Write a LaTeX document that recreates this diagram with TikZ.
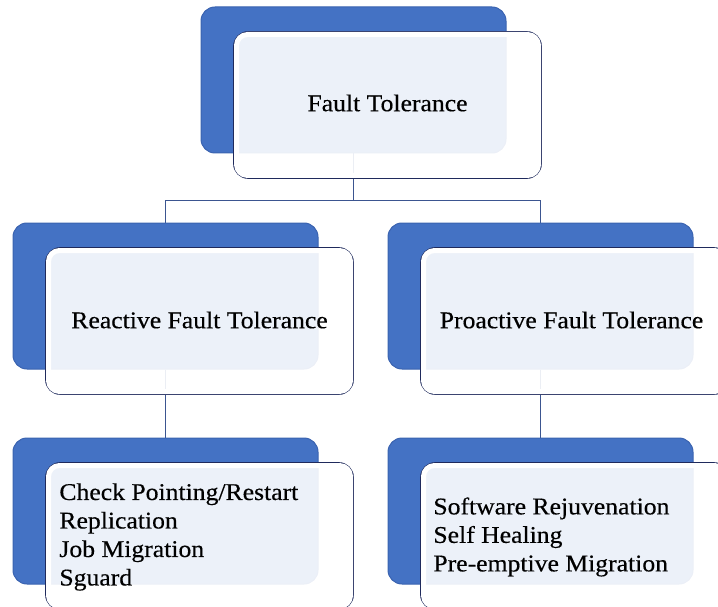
\documentclass[tikz,border=0pt]{standalone}
\usepackage{fontspec}
\setmainfont{Liberation Serif}[FakeStretch=1.07,FakeBold=0.4]
\usetikzlibrary{calc,backgrounds}
\definecolor{accentblue}{HTML}{4472C4}
\definecolor{accentedge}{HTML}{3A63B0}
\definecolor{navyline}{HTML}{1F2A5C}
\definecolor{linkblue}{HTML}{3B5590}

\begin{document}
\begin{tikzpicture}[x=1pt,y=-1pt,
  backbox/.style={draw=accentedge,line width=1pt,fill=accentblue,rounded corners=14pt,
    minimum width=305pt,minimum height=146pt,inner sep=0pt},
  frontbox/.style={draw=navyline,line width=1.6pt,fill=white,fill opacity=0.9,rounded corners=14pt,
    minimum width=307pt,minimum height=146pt,inner sep=0pt},
  innerrim/.style={draw=white,line width=5pt,rounded corners=11pt},
  boxtext/.style={font=\fontsize{24}{28.5}\selectfont,text=black,inner sep=0pt},
  link/.style={draw=linkblue,line width=1.4pt}]
  \useasboundingbox (0,0) rectangle (718,607);
  \clip (0,0) rectangle (718,607);
  % boxes: blue back panel, white front panel
  \foreach \n/\x/\y in {ft/353.5/80, rft/165.5/296, pft/540.5/296, rls/165.5/511, pls/540.5/511}{
    \node[backbox] (\n b) at (\x,\y) {};
    \node[frontbox] (\n f) at (\x+34,\y+25) {};
    \draw[innerrim] ($(\n f.north west)+(3.3,3.3)$) rectangle ($(\n f.south east)+(-3.3,-3.3)$);
  }
  \begin{scope}[on background layer]
    \draw[link] (ftb.south) -- ++(0,47) -| (rftb.north);
    \draw[link] (ftb.south) -- ++(0,47) -| (pftb.north);
    \draw[link] (rftb.south) -- (rlsb.north);
    \draw[link] (pftb.south) -- (plsb.north);
  \end{scope}
  % labels
  \node[boxtext] (fttext) at ($(ftf)+(0,-2)$) {Fault Tolerance};
  \node[boxtext] (rfttext) at ($(rftf)+(0,-1)$) {Reactive Fault Tolerance};
  \node[boxtext] (pfttext) at ($(pftf)+(-3,-1)$) {Proactive Fault Tolerance};
  \node[boxtext,align=left,anchor=west] (rlstext) at ($(rlsf.west)+(14,1)$)
    {Check Pointing/Restart\\Replication\\Job Migration\\Sguard};
  \node[boxtext,align=left,anchor=west] (plstext) at ($(plsf.west)+(13,1)$)
    {Software Rejuvenation\\Self Healing\\Pre-emptive Migration};
\end{tikzpicture}
\end{document}
